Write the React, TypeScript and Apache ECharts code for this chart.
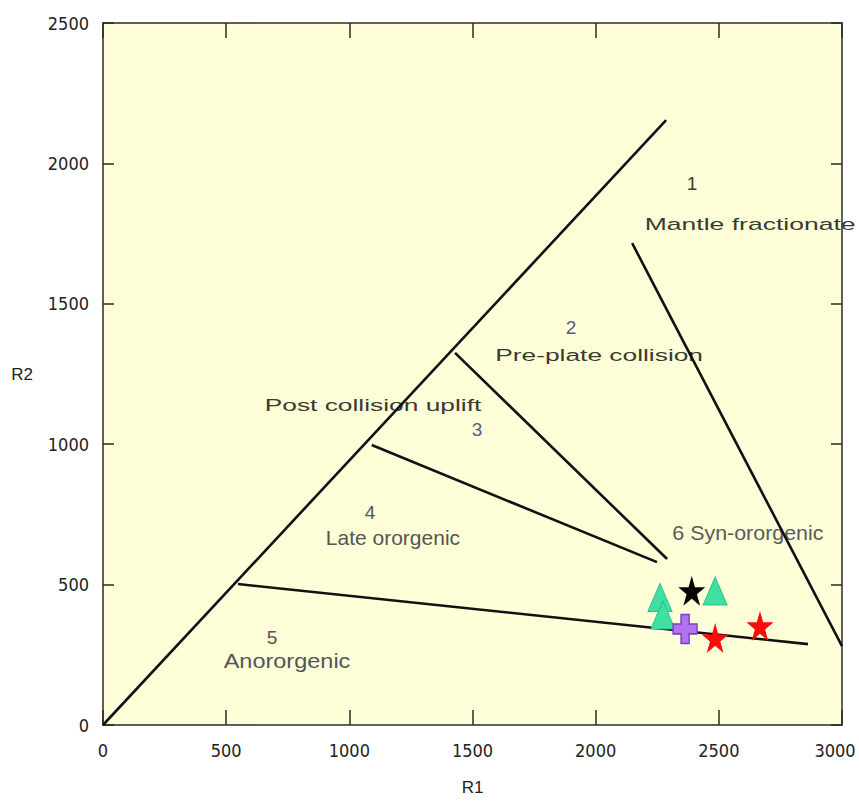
import React, { useEffect, useRef } from "react";
import * as echarts from "echarts";

// Boundary lines of the R1-R2 diagram: [[x1, y1], [x2, y2]]
const boundaryLines: number[][][] = [
  [[0, 0], [2286, 2154]],
  [[2148, 1716], [3000, 281]],
  [[1429, 1325], [2290, 591]],
  [[1091, 997], [2249, 580]],
  [[548, 502], [2862, 288]],
];

// Samples
const greenTriangles: number[][] = [[2261, 454], [2273, 392], [2485, 477]];
const blackStars: number[][] = [[2390, 478]];
const purpleCrosses: number[][] = [[2363, 342]];
const redStars: number[][] = [[2485, 310], [2667, 353]];

// Axis ticks
const xTicks = [0, 500, 1000, 1500, 2000, 2500, 3000];
const yTicks = [0, 500, 1000, 1500, 2000, 2500];

// Field annotations
const annotTexts = [
  "1", "Mantle fractionate", "2", "Pre-plate collision", "Post collision uplift", "3",
  "4", "Late ororgenic", "6 Syn-ororgenic", "5", "Anororgenic",
];
const annotX = [2391, 2627, 1900, 2014, 1096, 1518, 1084, 1177, 2618, 686, 747];
const annotY = [1930, 1784, 1414, 1318, 1140, 1051, 755, 666, 687, 313, 228];
const annotStyle = [
  { size: 19, sx: 1.0, color: "#3a3a30" },
  { size: 17, sx: 1.56, color: "#3a3a30" },
  { size: 19, sx: 1.0, color: "#5a5a7e" },
  { size: 17, sx: 1.55, color: "#3a3a30" },
  { size: 17, sx: 1.55, color: "#3a3a30" },
  { size: 19, sx: 1.0, color: "#5a5a7e" },
  { size: 19, sx: 1.0, color: "#555555" },
  { size: 20, sx: 1.05, color: "#555555" },
  { size: 21, sx: 1.02, color: "#5a5a5a" },
  { size: 19, sx: 1.0, color: "#555555" },
  { size: 21, sx: 1.12, color: "#555555" },
];

const STAR =
  "path://M100 0 L122.45 69.1 L195.1 69.1 L136.3 111.8 L158.8 180.9 L100 138.2 L41.2 180.9 L63.7 111.8 L4.9 69.1 L77.55 69.1 Z";
const CROSS = "path://M33 0 H67 V33 H100 V67 H67 V100 H33 V67 H0 V33 H33 Z";

const tickFont = "'DejaVu Sans Condensed', 'Liberation Sans Narrow', 'Liberation Sans', sans-serif";

export default function App() {
  const ref = useRef<HTMLDivElement>(null);
  useEffect(() => {
    if (!ref.current) return;
    const chart = echarts.init(ref.current, undefined, { renderer: "svg" });
    const axisLine = { show: true, onZero: false, lineStyle: { color: "#2a2a2a", width: 1.5 } };
    const lastX = xTicks[xTicks.length - 1];
    const fmtX = (v: number) => (v === lastX ? "{e|" + v + "}" : String(v));
    const fmtY = (v: number) => String(v);
    const xBase = {
      type: "value" as const,
      min: xTicks[0],
      max: lastX,
      interval: 500,
      axisLine,
      splitLine: { show: false },
      axisTick: { show: true, inside: true, length: 15, lineStyle: { color: "#2a2a2a", width: 1.5 } },
    };
    const yBase = {
      type: "value" as const,
      min: yTicks[0],
      max: yTicks[yTicks.length - 1],
      interval: 500,
      axisLine,
      splitLine: { show: false },
      axisTick: { show: true, inside: true, length: 11, lineStyle: { color: "#2a2a2a", width: 1.5 } },
    };
    chart.setOption({
      animation: false,
      backgroundColor: "#ffffff",
      grid: {
        left: 103, right: 17, top: 23, bottom: 80,
        containLabel: false,
        outerBoundsMode: "none",
        show: true, backgroundColor: "#fefed9", borderWidth: 0,
      },
      xAxis: [
        {
          ...xBase,
          position: "bottom",
          axisLabel: {
            show: true, margin: 16, fontSize: 18, fontFamily: tickFont, color: "#222", formatter: fmtX,
            rich: { e: { fontSize: 18, fontFamily: tickFont, color: "#222", padding: [0, 14, 0, 0] } },
          },
          name: "R1",
          nameLocation: "middle",
          nameGap: 54,
          nameTextStyle: { fontSize: 17, fontFamily: "'Liberation Sans', Arial, sans-serif", color: "#222" },
        },
        { ...xBase, position: "top", axisLabel: { show: false } },
      ],
      yAxis: [
        {
          ...yBase,
          position: "left",
          axisLabel: { show: true, margin: 14, fontSize: 18, fontFamily: tickFont, color: "#222", formatter: fmtY },
          name: "R2",
          nameLocation: "middle",
          nameRotate: 0,
          nameGap: 70,
          nameTextStyle: { fontSize: 17, fontFamily: "'Liberation Sans', Arial, sans-serif", color: "#222" },
        },
        { ...yBase, position: "right", axisLabel: { show: false } },
      ],
      series: [
        ...boundaryLines.map((seg) => ({
          type: "line",
          data: seg,
          symbol: "none",
          lineStyle: { color: "#111111", width: 2.6 },
          silent: true,
          z: 2,
        })),
        {
          type: "scatter",
          data: greenTriangles,
          symbol: "triangle",
          symbolSize: [24, 28],
          itemStyle: { color: "#3fe0a2", borderColor: "#2fbf86", borderWidth: 1, opacity: 1 },
          z: 3,
        },
        {
          type: "scatter",
          data: blackStars,
          symbol: STAR,
          symbolSize: [27, 30],
          itemStyle: { color: "#050505", opacity: 1 },
          z: 4,
        },
        {
          type: "scatter",
          data: purpleCrosses,
          symbol: CROSS,
          symbolSize: [24, 29],
          itemStyle: { color: "#b472f2", borderColor: "#7a3fc0", borderWidth: 1.5, opacity: 1 },
          z: 4,
        },
        {
          type: "scatter",
          data: redStars,
          symbol: STAR,
          symbolSize: [27, 30],
          itemStyle: { color: "#ff0a0a", opacity: 1 },
          z: 4,
        },
      ],
    });
    const graphic = annotTexts.map((t, i) => {
      const p = chart.convertToPixel({ xAxisIndex: 0, yAxisIndex: 0 }, [annotX[i], annotY[i]]) as number[];
      const st = annotStyle[i];
      return {
        type: "text",
        x: p[0],
        y: p[1],
        scaleX: st.sx,
        z: 1,
        silent: true,
        style: {
          text: t,
          fill: st.color,
          fontSize: st.size,
          fontFamily: "'Liberation Sans', Arial, sans-serif",
          textAlign: "center",
          textVerticalAlign: "middle",
        },
      };
    });
    chart.setOption({ graphic });
    return () => chart.dispose();
  }, []);
  return (
    <div
      ref={ref}
      style={{ position: "absolute", left: 0, top: 0, width: 859, height: 805 }}
    />
  );
}
